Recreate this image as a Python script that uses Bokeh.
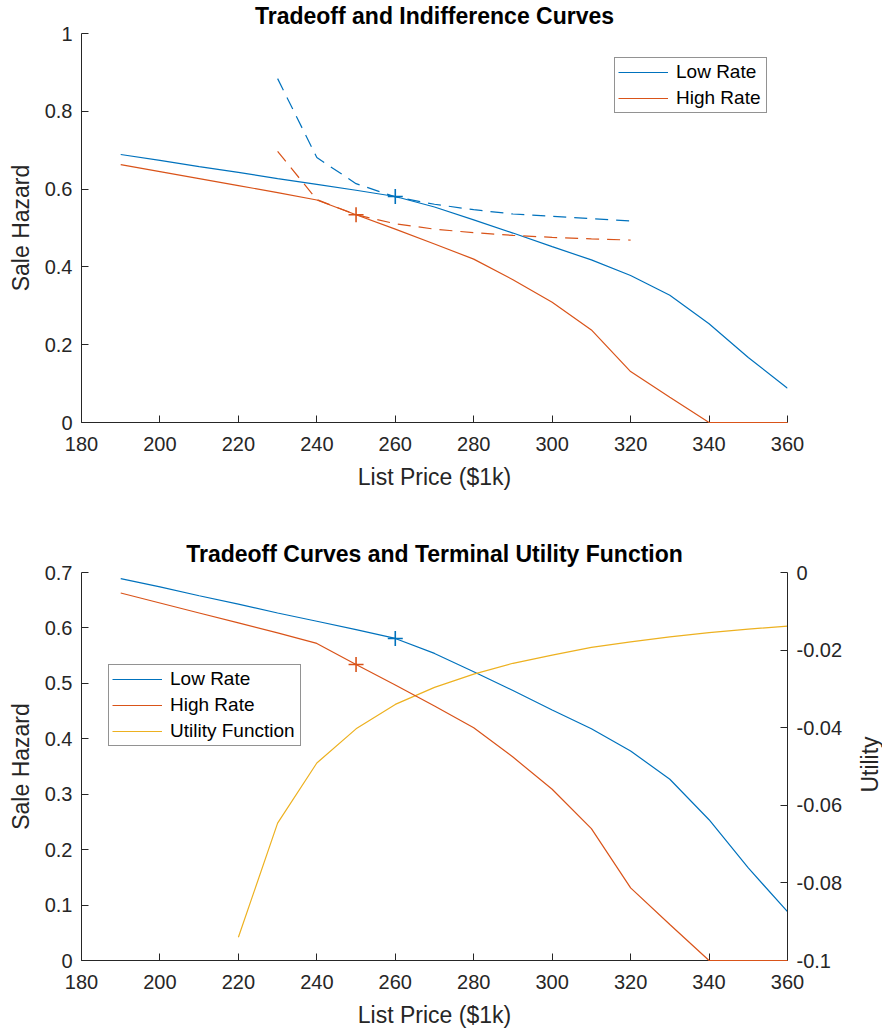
import math
from bokeh.plotting import figure
from bokeh.models import (Range1d, LinearAxis, FixedTicker, CustomJSTickFormatter,
                          Legend, LegendItem, Label)
from bokeh.layouts import column, row
from bokeh.embed import file_html
from bokeh.resources import INLINE

# ---------------- data ----------------
price = [190, 200, 210, 220, 230, 240, 250, 260, 270, 280, 290, 300, 310, 320, 330, 340, 350, 360]
low_rate = [0.689, 0.674, 0.658, 0.643, 0.627, 0.612, 0.597, 0.581, 0.554, 0.521, 0.487, 0.452,
            0.418, 0.378, 0.327, 0.254, 0.167, 0.088]
high_rate = [0.663, 0.645, 0.627, 0.609, 0.591, 0.572, 0.534, 0.497, 0.459, 0.420, 0.367, 0.309,
             0.238, 0.131, 0.065, 0.0, 0.0, 0.0]

indiff_price = [230, 240, 250, 260, 270, 280, 290, 300, 310, 320]
low_indiff = [0.884, 0.681, 0.614, 0.580, 0.561, 0.547, 0.536, 0.530, 0.524, 0.518]
high_indiff = [0.697, 0.573, 0.534, 0.511, 0.497, 0.488, 0.481, 0.476, 0.472, 0.469]

low_opt_price = [260]
low_opt_hazard = [0.581]
high_opt_price = [250]
high_opt_hazard = [0.534]

util_price = [220, 230, 240, 250, 260, 270, 280, 290, 300, 310, 320, 330, 340, 350, 360]
utility = [-0.094, -0.0646, -0.0491, -0.0403, -0.0340, -0.0296, -0.0262, -0.0234, -0.0213,
           -0.0193, -0.0179, -0.0166, -0.0155, -0.0146, -0.0138]

x_ticks = [180, 200, 220, 240, 260, 280, 300, 320, 340, 360]
y_ticks_top = [0, 0.2, 0.4, 0.6, 0.8, 1]
y_ticks_bottom = [0, 0.1, 0.2, 0.3, 0.4, 0.5, 0.6, 0.7]
util_ticks = [-0.1, -0.08, -0.06, -0.04, -0.02, 0]

# ---------------- style ----------------
FONT = "Liberation Sans"
AX = "#262626"
BLUE = "#0072BD"
RED = "#D95319"
YELLOW = "#EDB120"
LW = 1.2
fmt = CustomJSTickFormatter(code="return String(tick);")


def style_axis(ax, ticks):
    ax.ticker = FixedTicker(ticks=ticks)
    ax.formatter = fmt
    ax.axis_line_color = AX
    ax.major_tick_line_color = AX
    ax.major_tick_in = 7
    ax.major_tick_out = 0
    ax.minor_tick_line_color = None
    ax.major_label_text_font = FONT
    ax.major_label_text_font_size = "20px"
    ax.major_label_text_color = AX
    ax.axis_label_text_font = FONT
    ax.axis_label_text_font_size = "23px"
    ax.axis_label_text_font_style = "normal"
    ax.axis_label_text_color = AX


def base_fig(width, height, top, bottom, right, title, title_standoff, ymax, yticks, **kw):
    p = figure(width=width, height=height, output_backend="svg", toolbar_location=None,
               x_range=Range1d(180, 360), y_range=Range1d(0, ymax),
               min_border_left=81, min_border_right=right, min_border_top=top,
               min_border_bottom=bottom, **kw)
    p.title.text = title
    p.title.text_font = FONT
    p.title.text_font_size = "23px"
    p.title.text_font_style = "bold"
    p.title.text_color = "black"
    p.title.align = "center"
    p.title.standoff = title_standoff
    p.outline_line_color = None
    p.xgrid.grid_line_color = None
    p.ygrid.grid_line_color = None
    p.background_fill_color = "white"
    p.border_fill_color = "white"
    style_axis(p.xaxis[0], x_ticks)
    style_axis(p.yaxis[0], yticks)
    p.xaxis[0].axis_label = "List Price ($1k)"
    p.yaxis[0].axis_label = "Sale Hazard"
    p.xaxis[0].major_label_standoff = 14
    p.xaxis[0].axis_label_standoff = 10
    p.yaxis[0].major_label_standoff = 9
    p.yaxis[0].axis_label_standoff = 8
    return p


def style_legend(lg, label_width):
    lg.label_text_font = FONT
    lg.label_text_font_size = "19px"
    lg.label_text_color = "black"
    lg.glyph_width = 50
    lg.glyph_height = 22
    lg.label_height = 22
    lg.label_width = label_width
    lg.label_standoff = 8
    lg.spacing = 4
    lg.padding = 3
    lg.margin = 0
    lg.border_line_color = AX
    lg.border_line_width = 1
    lg.background_fill_color = "white"
    lg.background_fill_alpha = 1


# ---------------- top figure ----------------
# canvas starts 8px above the page so that the title has room above the frame
p1 = base_fig(882, 523, 41, 93, 95, "Tradeoff and Indifference Curves", 10, 1, y_ticks_top,
              margin=(-8, 0, 0, 0))
r_low = p1.line(price, low_rate, line_color=BLUE, line_width=LW)
r_high = p1.line(price, high_rate, line_color=RED, line_width=LW, level="overlay")
p1.line(indiff_price, low_indiff, line_color=BLUE, line_width=LW, line_dash="13 8")
p1.line(indiff_price, high_indiff, line_color=RED, line_width=LW, line_dash="13 8")
p1.scatter(low_opt_price, low_opt_hazard, marker="cross", size=15, line_color=BLUE, line_width=1.6)
p1.scatter(high_opt_price, high_opt_hazard, marker="cross", size=15, line_color=RED, line_width=1.6)
lg1 = Legend(items=[LegendItem(label="Low Rate", renderers=[r_low]),
                    LegendItem(label="High Rate", renderers=[r_high])],
             location=(533, 309))
style_legend(lg1, 87)
p1.add_layout(lg1)

# ---------------- bottom figure ----------------
p2 = base_fig(855, 516, 57, 71, 68, "Tradeoff Curves and Terminal Utility Function", 11,
              0.7, y_ticks_bottom)
p2.extra_y_ranges = {"util": Range1d(-0.1, 0)}
ax_r = LinearAxis(y_range_name="util")
style_axis(ax_r, util_ticks)
ax_r.major_label_standoff = 9
p2.add_layout(ax_r, "right")

q_low = p2.line(price, low_rate, line_color=BLUE, line_width=LW)
q_high = p2.line(price, high_rate, line_color=RED, line_width=LW, level="overlay")
q_util = p2.line(util_price, utility, line_color=YELLOW, line_width=LW, y_range_name="util")
p2.scatter(low_opt_price, low_opt_hazard, marker="cross", size=15, line_color=BLUE, line_width=1.6)
p2.scatter(high_opt_price, high_opt_hazard, marker="cross", size=15, line_color=RED, line_width=1.6)
lg2 = Legend(items=[LegendItem(label="Low Rate", renderers=[q_low]),
                    LegendItem(label="High Rate", renderers=[q_high]),
                    LegendItem(label="Utility Function", renderers=[q_util])],
             location=(27, 214))
style_legend(lg2, 127)
p2.add_layout(lg2)

# narrow strip holding the right-hand axis title, reading bottom-to-top
p3 = figure(width=27, height=516, output_backend="svg", toolbar_location=None,
            x_axis_type=None, y_axis_type=None, min_border=0,
            x_range=Range1d(0, 1), y_range=Range1d(0, 1))
p3.outline_line_color = None
p3.background_fill_color = "white"
p3.border_fill_color = "white"
p3.add_layout(Label(x=14, y=196, x_units="screen", y_units="screen", text="Utility",
                    angle=math.pi / 2, text_font=FONT, text_font_size="23px",
                    text_color=AX, text_align="center", text_baseline="middle"))

layout = column(p1, row(p2, p3, spacing=0), spacing=0)
open("out.html", "w").write(file_html(layout, INLINE))
